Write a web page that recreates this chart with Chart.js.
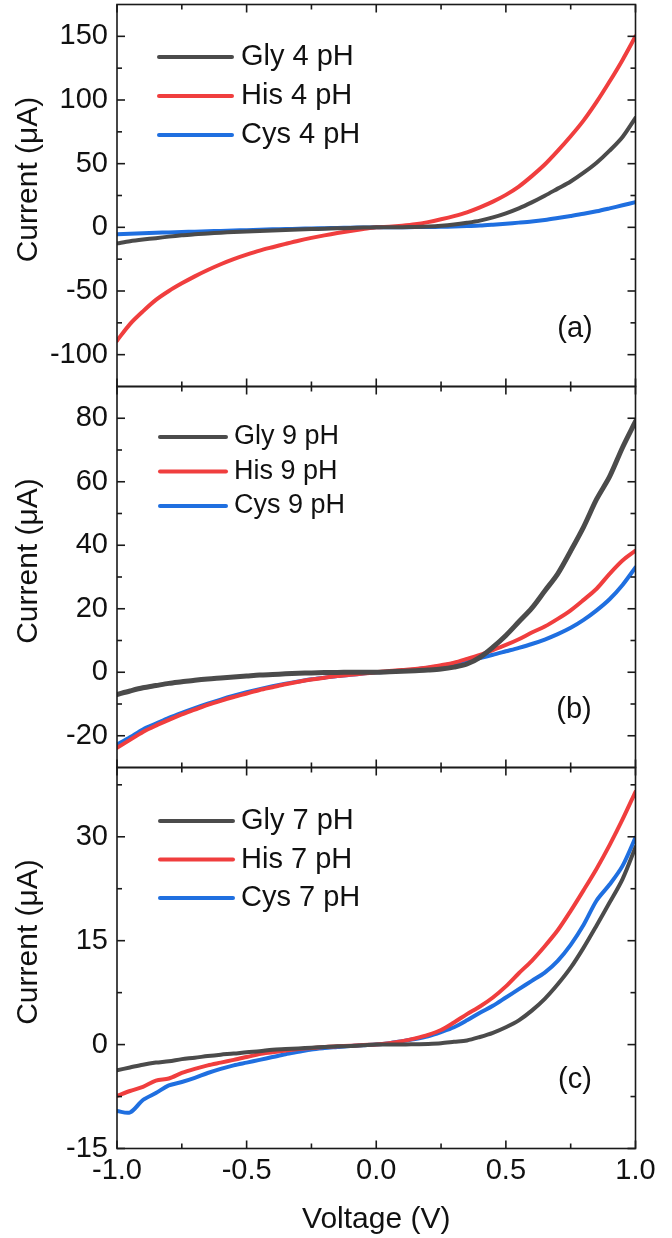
<!DOCTYPE html>
<html>
<head>
<meta charset="utf-8">
<script src="https://cdn.jsdelivr.net/npm/chart.js@4.4.1/dist/chart.umd.min.js"></script>
<style>
	html, body { margin: 0; padding: 0; background: #fff; }
	#wrap { position: relative; width: 672px; height: 1238px; overflow: hidden; }
	.panel { position: absolute; left: 0; width: 672px; }
</style>
</head>
<body>
<div id="wrap">
	<div class="panel" style="top:0px;height:400px"><canvas id="chart_a"></canvas></div>
	<div class="panel" style="top:376px;height:400px"><canvas id="chart_b"></canvas></div>
	<div class="panel" style="top:757px;height:481px"><canvas id="chart_c"></canvas></div>
</div>
<script>
// Sweep voltage (V), shared by every curve
const voltage = [-1.0, -0.95, -0.9, -0.85, -0.8, -0.75, -0.7, -0.65, -0.6, -0.55, -0.5, -0.45, -0.4, -0.35, -0.3, -0.25, -0.2, -0.15, -0.1, -0.05,
	0.0, 0.05, 0.1, 0.15, 0.2, 0.25, 0.3, 0.35, 0.4, 0.45, 0.5, 0.55, 0.6, 0.65, 0.7, 0.75, 0.8, 0.85, 0.9, 0.95, 1.0];

// Panel (a) - pH 4, current in uA
const gly4 = [-12.6, -10.9, -9.6, -8.5, -7.3, -6.3, -5.4, -4.8, -4.2, -3.6, -3.2, -2.8, -2.5, -2.1, -1.7, -1.4, -1.1, -0.8, -0.5, -0.2,
	0, 0.05, 0.15, 0.3, 0.6, 1.2, 2.2, 3.6, 5.3, 7.8, 11.0, 14.9, 19.6, 24.8, 30.4, 36.0, 42.9, 50.7, 60.2, 71.0, 86.0];
const his4 = [-89, -76, -66, -57, -50, -44, -38.5, -33.5, -29, -25, -21.5, -18.3, -15.6, -13, -10.5, -8.3, -6.3, -4.5, -2.9, -1.4,
	0, 0.5, 1.3, 2.4, 4.1, 6.3, 8.8, 11.8, 15.7, 20.2, 25.5, 32.0, 40.2, 49.3, 60.0, 71.5, 84.0, 98.5, 114.5, 131.5, 150.0];
const cys4 = [-5.5, -5.1, -4.7, -4.3, -4.0, -3.7, -3.4, -3.1, -2.8, -2.5, -2.2, -1.9, -1.6, -1.4, -1.1, -0.9, -0.7, -0.5, -0.3, -0.15,
	0, 0.05, 0.1, 0.2, 0.3, 0.4, 0.6, 1.0, 1.4, 2.1, 2.9, 3.7, 4.6, 5.8, 7.3, 8.9, 10.6, 12.6, 14.9, 17.3, 19.8];

// Panel (b) - pH 9
const gly9 = [-7.0, -5.9, -4.9, -4.2, -3.5, -3.0, -2.5, -2.1, -1.8, -1.5, -1.2, -0.9, -0.7, -0.5, -0.35, -0.2, -0.1, -0.05, 0, 0,
	0, 0.15, 0.3, 0.5, 0.7, 1.0, 1.6, 2.6, 4.7, 7.9, 11.6, 15.9, 20.2, 25.6, 31.0, 38.2, 45.8, 54.5, 61.6, 70.8, 79.0];
const his9 = [-23.8, -21.3, -18.8, -16.8, -15.0, -13.3, -11.8, -10.3, -9.0, -7.8, -6.7, -5.6, -4.7, -3.8, -3.0, -2.3, -1.7, -1.2, -0.8, -0.4,
	0, 0.4, 0.7, 1.0, 1.5, 2.2, 3.0, 4.2, 5.5, 7.0, 8.6, 10.4, 12.5, 14.4, 16.8, 19.5, 22.8, 26.3, 31.0, 35.2, 38.3];
const cys9 = [-22.8, -20.5, -18.0, -16.2, -14.4, -12.8, -11.3, -9.9, -8.6, -7.4, -6.3, -5.3, -4.4, -3.6, -2.9, -2.2, -1.7, -1.2, -0.8, -0.4,
	0, 0.2, 0.5, 0.9, 1.4, 2.0, 2.8, 3.6, 4.5, 5.5, 6.6, 7.7, 8.9, 10.3, 12.0, 14.0, 16.5, 19.5, 23.0, 27.5, 33.0];

// Panel (c) - pH 7
const gly7 = [-3.7, -3.3, -2.9, -2.6, -2.4, -2.1, -1.9, -1.65, -1.45, -1.3, -1.1, -0.95, -0.75, -0.65, -0.55, -0.45, -0.35, -0.25, -0.2, -0.1,
	0, 0, 0, 0.05, 0.1, 0.2, 0.4, 0.6, 1.1, 1.7, 2.5, 3.5, 4.9, 6.6, 8.7, 11.1, 14.0, 17.2, 20.5, 23.9, 28.5];
const his7 = [-7.4, -6.7, -6.1, -5.2, -4.9, -4.1, -3.5, -3.0, -2.6, -2.2, -1.8, -1.35, -1.1, -0.85, -0.65, -0.5, -0.35, -0.25, -0.15, -0.05,
	0, 0.2, 0.5, 0.9, 1.4, 2.1, 3.2, 4.4, 5.5, 6.8, 8.4, 10.3, 12.1, 14.2, 16.5, 19.3, 22.3, 25.4, 28.8, 32.5, 36.5];
const cys7 = [-9.6, -9.8, -8.0, -7.0, -5.9, -5.4, -4.8, -4.1, -3.5, -3.0, -2.6, -2.2, -1.8, -1.4, -1.05, -0.7, -0.5, -0.35, -0.2, -0.1,
	0, 0.2, 0.5, 0.8, 1.2, 1.8, 2.5, 3.5, 4.6, 5.6, 6.8, 8.0, 9.2, 10.4, 12.1, 14.4, 17.3, 20.8, 23.1, 25.8, 29.9];

// Axis ticks
const xTicks = [-1.0, -0.5, 0.0, 0.5, 1.0];
const yTicksA = [-100, -50, 0, 50, 100, 150];
const yTicksB = [-20, 0, 20, 40, 60, 80];
const yTicksC = [-15, 0, 15, 30];

const GRAY = '#4b4b4b';
const RED = '#f03e3e';
const BLUE = '#1f6fe0';
const FONT = '"Liberation Sans", Arial, sans-serif';

const toPoints = (ys) => voltage.map((v, i) => ({ x: v, y: ys[i] }));

function makeDataset(label, ys, color, width) {
	return {
		label: label,
		data: toPoints(ys),
		borderColor: color,
		backgroundColor: color,
		borderWidth: width || 4,
		pointRadius: 0,
		tension: 0.3,
		borderCapStyle: 'round',
		borderJoinStyle: 'round',
		fill: false,
	};
}

// Closed frame with inward major and minor ticks on all four sides
const frameTicks = {
	id: 'frameTicks',
	afterDraw(chart) {
		const { ctx, chartArea: { left, right, top, bottom }, scales: { x, y } } = chart;
		const seg = (x1, y1, x2, y2) => { ctx.beginPath(); ctx.moveTo(x1, y1); ctx.lineTo(x2, y2); ctx.stroke(); };
		const withMinors = (scale) => {
			const major = scale.ticks.map(t => t.value);
			const minor = [];
			for (let i = 0; i < major.length - 1; i++) minor.push((major[i] + major[i + 1]) / 2);
			const step = major[1] - major[0];
			if (major[0] - step / 2 > scale.min) minor.push(major[0] - step / 2);
			if (major[major.length - 1] + step / 2 < scale.max) minor.push(major[major.length - 1] + step / 2);
			return { major, minor };
		};
		ctx.save();
		ctx.strokeStyle = '#1a1a1a';
		ctx.lineWidth = 1.6;
		const xm = withMinors(x);
		const ym = withMinors(y);
		xm.major.forEach(v => { const p = x.getPixelForValue(v); seg(p, bottom, p, bottom - 8); seg(p, top, p, top + 8); });
		xm.minor.forEach(v => { const p = x.getPixelForValue(v); seg(p, bottom, p, bottom - 5); seg(p, top, p, top + 5); });
		ym.major.forEach(v => { const p = y.getPixelForValue(v); seg(left, p, left + 8, p); seg(right, p, right - 8, p); });
		ym.minor.forEach(v => { const p = y.getPixelForValue(v); seg(left, p, left + 5, p); seg(right, p, right - 5, p); });
		ctx.strokeRect(left, top, right - left, bottom - top);
		ctx.restore();
	}
};

// Legend inside the plot, the panel tag and the y axis title
const insideLegend = {
	id: 'insideLegend',
	afterDraw(chart, args, opts) {
		const { ctx, chartArea } = chart;
		ctx.save();
		ctx.textBaseline = 'middle';
		ctx.font = opts.font;
		chart.data.datasets.forEach((ds, i) => {
			const yy = chartArea.top + opts.top + i * opts.spacing;
			const x0 = chartArea.left + opts.left;
			ctx.strokeStyle = ds.borderColor;
			ctx.lineWidth = 4;
			ctx.lineCap = 'round';
			ctx.beginPath();
			ctx.moveTo(x0, yy);
			ctx.lineTo(x0 + opts.lineLength, yy);
			ctx.stroke();
			ctx.fillStyle = '#111';
			ctx.textAlign = 'left';
			ctx.fillText(ds.label, x0 + opts.lineLength + opts.gap, yy);
		});
		ctx.font = '29px ' + FONT;
		ctx.textAlign = 'center';
		ctx.fillStyle = '#111';
		ctx.fillText(opts.tag, chartArea.right - opts.tagRight, chartArea.bottom - opts.tagBottom);

		// y axis title, set a little above the middle of the frame as in the original
		ctx.font = '30px ' + FONT;
		ctx.translate(28.5, (chartArea.top + chartArea.bottom) / 2 - 16);
		ctx.rotate(-Math.PI / 2);
		ctx.fillText('Current (\u03bcA)', 0, 0);
		ctx.restore();
	}
};

function makeChart(id, datasets, yMin, yMax, yTicks, cfg) {
	const ctx = document.getElementById(id).getContext('2d');
	return new Chart(ctx, {
		type: 'line',
		data: { datasets: datasets },
		plugins: [frameTicks, insideLegend],
		options: {
			animation: false,
			responsive: true,
			maintainAspectRatio: false,
			events: [],
			layout: { padding: { top: cfg.padTop, right: 36.5, bottom: 0, left: 0 } },
			scales: {
				x: {
					type: 'linear',
					min: -1,
					max: 1,
					afterBuildTicks: (scale) => { scale.ticks = xTicks.map(v => ({ value: v })); },
					afterFit: (scale) => { scale.height = cfg.xHeight; scale.paddingLeft = 0; scale.paddingRight = 0; },
					grid: { display: false, drawTicks: false },
					border: { display: false },
					ticks: {
						display: cfg.showX,
						padding: 5,
						color: '#111',
						font: { family: FONT, size: 29 },
						maxRotation: 0,
						autoSkip: false,
						callback: (value) => value.toFixed(1),
					},
					title: {
						display: cfg.showX,
						text: 'Voltage (V)',
						color: '#111',
						font: { family: FONT, size: 30 },
						padding: { top: 0, bottom: 0 },
					},
				},
				y: {
					type: 'linear',
					min: yMin,
					max: yMax,
					afterBuildTicks: (scale) => { scale.ticks = yTicks.map(v => ({ value: v })); },
					afterFit: (scale) => { scale.width = 117; scale.paddingTop = 0; scale.paddingBottom = 0; },
					grid: { display: false, drawTicks: false },
					border: { display: false },
					ticks: {
						padding: 9,
						color: '#111',
						font: { family: FONT, size: 29 },
						autoSkip: false,
					},
					title: { display: false },
				},
			},
			plugins: {
				legend: { display: false },
				tooltip: { enabled: false },
				insideLegend: cfg.legend,
			},
		},
	});
}

// Chart (a)
const chart_a = makeChart('chart_a', [
	makeDataset('Gly 4 pH', gly4, GRAY),
	makeDataset('His 4 pH', his4, RED),
	makeDataset('Cys 4 pH', cys4, BLUE),
], -125, 175, yTicksA, {
	padTop: 4.5, xHeight: 13.5, showX: false,
	legend: { font: '29px ' + FONT, left: 42, top: 52.5, spacing: 39, lineLength: 73, gap: 9,
		tag: '(a)', tagRight: 60.5, tagBottom: 57.5 },
});

// Chart (b)
const chart_b = makeChart('chart_b', [
	makeDataset('Gly 9 pH', gly9, GRAY, 5),
	makeDataset('His 9 pH', his9, RED),
	makeDataset('Cys 9 pH', cys9, BLUE),
], -30, 90, yTicksB, {
	padTop: 10.5, xHeight: 8.5, showX: false,
	legend: { font: '27px ' + FONT, left: 43, top: 50.5, spacing: 34.5, lineLength: 66, gap: 8,
		tag: '(b)', tagRight: 61.5, tagBottom: 57.5 },
});

// Chart (c)
const chart_c = makeChart('chart_c', [
	makeDataset('Gly 7 pH', gly7, GRAY),
	makeDataset('His 7 pH', his7, RED),
	makeDataset('Cys 7 pH', cys7, BLUE),
], -15, 40, yTicksC, {
	padTop: 10.5, xHeight: 89.5, showX: true,
	legend: { font: '29px ' + FONT, left: 43, top: 53.5, spacing: 38.5, lineLength: 73, gap: 8,
		tag: '(c)', tagRight: 60.5, tagBottom: 68.5 },
});
</script>
</body>
</html>
